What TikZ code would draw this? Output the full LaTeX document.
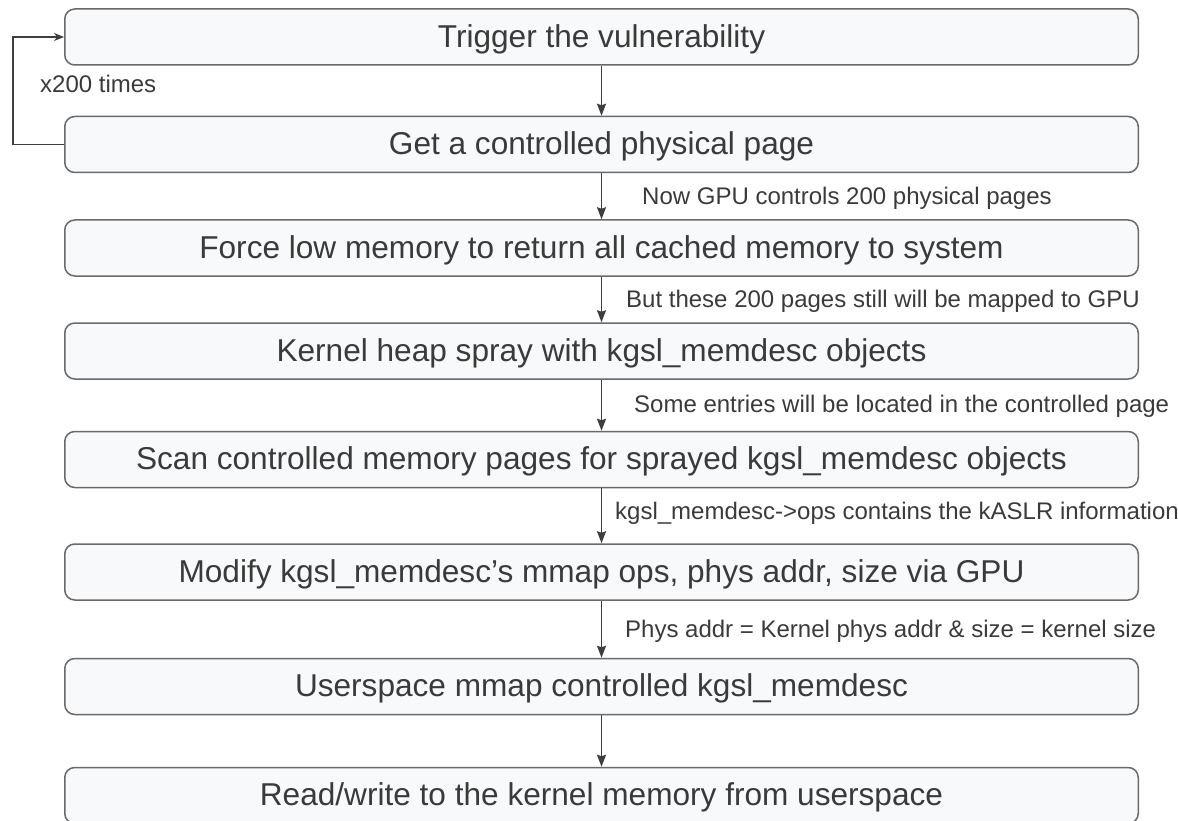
\documentclass[tikz,border=0pt]{standalone}
\usepackage{fontspec}
\setmainfont{Liberation Sans}
\usetikzlibrary{arrows.meta}

\definecolor{boxfill}{HTML}{F8F9FA}
\definecolor{boxline}{HTML}{6A6A6A}
\definecolor{ink}{HTML}{3A3A3A}
\definecolor{wire}{HTML}{3E3E3E}

\tikzset{
  stepbox/.style={draw=boxline, fill=boxfill, line width=1.5pt,
    rounded corners=10pt, minimum width=1073.5pt, minimum height=56pt,
    inner sep=0pt, text=ink, font=\fontsize{31.6}{36}\selectfont,
    text height=22.8pt, text depth=2pt},
  note/.style={anchor=west, inner sep=0pt, text=ink,
    font=\fontsize{24}{28}\selectfont, text height=17.3pt, text depth=1.5pt},
  arr/.style={draw=wire, line width=1.5pt,
    -{Stealth[length=12pt, width=9pt, inset=1.5pt]}},
  looparr/.style={draw=wire, line width=1.5pt,
    -{Stealth[length=10pt, width=8pt, inset=3pt]}},
}

\begin{document}
\begin{tikzpicture}[x=1pt, y=-1pt]
\useasboundingbox (0,0) rectangle (1178,821);

% process steps, top to bottom
\node[stepbox] (b1) at (601.5, 37)    {Trigger the vulnerability};
\node[stepbox] (b2) at (601.5, 144.5) {Get a controlled physical page};
\node[stepbox] (b3) at (601.5, 248)   {Force low memory to return all cached memory to system};
\node[stepbox] (b4) at (601.5, 351)   {Kernel heap spray with kgsl\_memdesc objects};
\node[stepbox] (b5) at (601.5, 459.5) {Scan controlled memory pages for sprayed kgsl\_memdesc objects};
\node[stepbox] (b6) at (601.5, 572)   {Modify kgsl\_memdesc’s mmap ops, phys addr, size via GPU};
\node[stepbox] (b7) at (601.5, 686.5) {Userspace mmap controlled kgsl\_memdesc};
\node[stepbox] (b8) at (601.5, 795.5) {Read/write to the kernel memory from userspace};

% flow between steps
\draw[arr] (b1.south) -- (b2.north);
\draw[arr] (b2.south) -- (b3.north);
\draw[arr] (b3.south) -- (b4.north);
\draw[arr] (b4.south) -- (b5.north);
\draw[arr] (b5.south) -- (b6.north);
\draw[arr] (b6.south) -- (b7.north);
\draw[arr] (b7.south) -- (b8.north);

% repeat loop back to the trigger step
\draw[looparr] (b2.west) -- ++(-51,0) |- (b1.west);
\node[note] (rep) at (40, 85) {x200 times};

% annotations beside the arrows
\node[note] (n1) at (642, 196.5) {Now GPU controls 200 physical pages};
\node[note] (n2) at (626, 299.5) {But these 200 pages still will be mapped to GPU};
\node[note] (n3) at (634, 405)   {Some entries will be located in the controlled page};
\node[note] (n4) at (615, 512)   {kgsl\_memdesc->ops contains the kASLR information};
\node[note] (n5) at (625, 630)   {Phys addr = Kernel phys addr \& size = kernel size};
\end{tikzpicture}
\end{document}
